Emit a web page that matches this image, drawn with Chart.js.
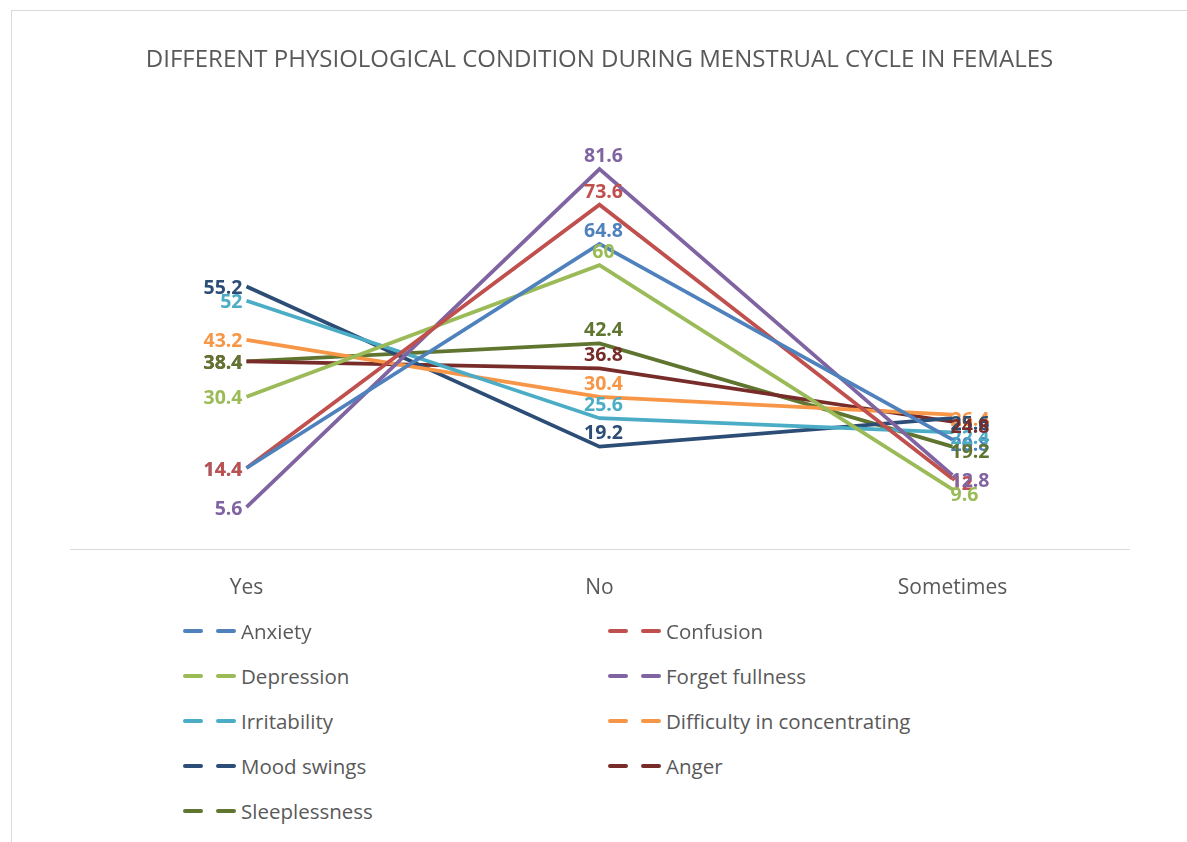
<!DOCTYPE html>
<html>
<head>
<meta charset="utf-8">
<script src="https://cdn.jsdelivr.net/npm/chart.js@4.4.0/dist/chart.umd.min.js"></script>
<style>
  body { margin: 0; background: #fff; font-family: 'Open Sans', sans-serif; }
  .frame { position: absolute; left: 11px; top: 10px; width: 1190px; height: 850px; border: 1px solid #d9d9d9; }
  .chart-box { position: absolute; left: 0; top: 0; width: 1187px; height: 630px; }
  .legend { position: absolute; left: 183px; top: 616px; width: 900px; }
  .legend-item { position: absolute; display: flex; align-items: center; color: #595959; font-size: 20.5px; height: 30px; white-space: nowrap; }
  .legend-item .dash { display: inline-block; width: 20px; height: 4px; border-radius: 2px; margin-right: 13px; }
  .legend-item .dash + .dash { margin-right: 5px; }
</style>
</head>
<body>
<div class="frame"></div>
<div class="chart-box"><canvas id="chart"></canvas></div>
<div class="legend" id="legend"></div>
<script>
// categories and series (percent)
const categories = ['Yes', 'No', 'Sometimes'];
const anxiety = [14.4, 64.8, 20.8];
const confusion = [14.4, 73.6, 12];
const depression = [30.4, 60, 9.6];
const forgetFullness = [5.6, 81.6, 12.8];
const irritability = [52, 25.6, 22.4];
const difficultyConcentrating = [43.2, 30.4, 26.4];
const moodSwings = [55.2, 19.2, 25.6];
const anger = [38.4, 36.8, 24.8];
const sleeplessness = [38.4, 42.4, 19.2];

const seriesNames = ['Anxiety', 'Confusion', 'Depression', 'Forget fullness', 'Irritability',
  'Difficulty in concentrating', 'Mood swings', 'Anger', 'Sleeplessness'];
const seriesData = [anxiety, confusion, depression, forgetFullness, irritability,
  difficultyConcentrating, moodSwings, anger, sleeplessness];
const seriesColors = ['#4F81BD', '#C0504D', '#9BBB59', '#8064A2', '#4BACC6',
  '#F79646', '#2C4D75', '#772C2A', '#5F7530'];

// draws the value next to each point, like Excel data labels
const valueLabels = {
  id: 'valueLabels',
  afterDatasetsDraw(chart) {
    const ctx = chart.ctx;
    ctx.save();
    ctx.font = 'bold 19.5px "Open Sans", sans-serif';
    chart.data.datasets.forEach((ds, i) => {
      const meta = chart.getDatasetMeta(i);
      meta.data.forEach((pt, j) => {
        ctx.fillStyle = ds.borderColor;
        let x = pt.x, y = pt.y;
        if (j === 0) {
          ctx.textAlign = 'right'; ctx.textBaseline = 'middle';
          x -= 4; y += 2;
        } else if (j === 1) {
          ctx.textAlign = 'center'; ctx.textBaseline = 'bottom';
          x += 4; y -= 3;
        } else {
          ctx.textAlign = 'left'; ctx.textBaseline = 'middle';
          x -= 2; y += 6;
        }
        ctx.fillText(String(ds.data[j]), x, y);
      });
    });
    ctx.restore();
  }
};

const chart = new Chart(document.getElementById('chart'), {
  type: 'line',
  data: {
    labels: categories,
    datasets: seriesNames.map((name, i) => ({
      label: name,
      data: seriesData[i],
      borderColor: seriesColors[i],
      backgroundColor: seriesColors[i],
      borderWidth: 3.75,
      pointRadius: 0,
      tension: 0,
    })),
  },
  options: {
    responsive: true,
    maintainAspectRatio: false,
    animation: false,
    layout: { padding: { top: 46, left: 70, right: 58, bottom: 3 } },
    plugins: {
      legend: { display: false },
      tooltip: { enabled: false },
      title: {
        display: true,
        text: 'DIFFERENT PHYSIOLOGICAL CONDITION DURING MENSTRUAL CYCLE IN FEMALES',
        color: '#595959',
        font: { family: 'Open Sans', size: 24, weight: 'normal' },
        padding: { top: 0, bottom: 57 },
      },
    },
    scales: {
      x: {
        offset: true,
        grid: { display: false, drawTicks: false },
        border: { display: true, color: '#d9d9d9', width: 1 },
        ticks: { color: '#595959', font: { family: 'Open Sans', size: 21 }, padding: 26 },
      },
      y: {
        display: false,
        min: -4,
        max: 90,
      },
    },
  },
  plugins: [valueLabels],
});

// two column legend below the chart
const legendEl = document.getElementById('legend');
seriesNames.forEach((name, i) => {
  const item = document.createElement('div');
  item.className = 'legend-item';
  item.style.left = (i % 2 === 0 ? 0 : 425) + 'px';
  item.style.top = Math.floor(i / 2) * 45 + 'px';
  item.innerHTML = '<span class="dash" style="background:' + seriesColors[i] + '"></span>' +
    '<span class="dash" style="background:' + seriesColors[i] + '"></span>' + name;
  legendEl.appendChild(item);
});
</script>
</body>
</html>
